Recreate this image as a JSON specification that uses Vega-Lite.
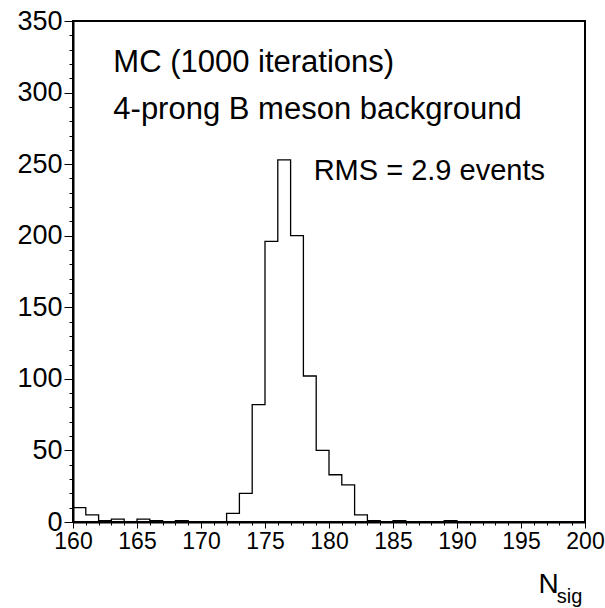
{
  "$schema": "https://vega.github.io/schema/vega-lite/v6.json",
  "width": 512,
  "height": 501,
  "autosize": {"type": "none"},
  "padding": {"left": 73, "top": 21, "right": 20, "bottom": 86},
  "background": "white",
  "config": {
    "view": {"stroke": "black", "strokeWidth": 2},
    "font": "Liberation Sans",
    "axis": {
      "domainColor": "black",
      "domainWidth": 2,
      "tickColor": "black",
      "tickWidth": 1,
      "grid": false,
      "labelColor": "black",
      "labelFont": "Liberation Sans",
      "labelOverlap": false,
      "labelFlush": false,
      "titleColor": "black",
      "titleFont": "Liberation Sans",
      "titleFontWeight": "normal"
    }
  },
  "data": {
    "values": [
      {"edge": 160, "count": 10}, {"edge": 161, "count": 5}, {"edge": 162, "count": 1},
      {"edge": 163, "count": 2}, {"edge": 164, "count": 0}, {"edge": 165, "count": 2},
      {"edge": 166, "count": 1}, {"edge": 167, "count": 0}, {"edge": 168, "count": 1},
      {"edge": 169, "count": 0}, {"edge": 170, "count": 0}, {"edge": 171, "count": 0},
      {"edge": 172, "count": 6}, {"edge": 173, "count": 20}, {"edge": 174, "count": 82},
      {"edge": 175, "count": 196}, {"edge": 176, "count": 253}, {"edge": 177, "count": 200},
      {"edge": 178, "count": 102}, {"edge": 179, "count": 50}, {"edge": 180, "count": 33},
      {"edge": 181, "count": 26}, {"edge": 182, "count": 5}, {"edge": 183, "count": 1},
      {"edge": 184, "count": 0}, {"edge": 185, "count": 1}, {"edge": 186, "count": 0},
      {"edge": 187, "count": 0}, {"edge": 188, "count": 0}, {"edge": 189, "count": 1},
      {"edge": 190, "count": 0}, {"edge": 191, "count": 0}, {"edge": 192, "count": 0},
      {"edge": 193, "count": 0}, {"edge": 194, "count": 0}, {"edge": 195, "count": 0},
      {"edge": 196, "count": 0}, {"edge": 197, "count": 0}, {"edge": 198, "count": 0},
      {"edge": 199, "count": 0}, {"edge": 200, "count": 0}
    ]
  },
  "layer": [
    {
      "mark": {"type": "line", "interpolate": "step-after", "color": "black", "strokeWidth": 1.3},
      "encoding": {
        "x": {
          "field": "edge",
          "type": "quantitative",
          "scale": {"domain": [160, 200], "nice": false, "zero": false},
          "axis": {
            "values": [160,161,162,163,164,165,166,167,168,169,170,171,172,173,174,175,176,177,178,179,180,181,182,183,184,185,186,187,188,189,190,191,192,193,194,195,196,197,198,199,200],
            "tickCount": 200,
            "format": "d",
            "labelExpr": "datum.value % 5 === 0 ? datum.label : ''",
            "tickSize": {"condition": {"test": "datum.value % 5 === 0", "value": 6}, "value": 3},
            "labelPadding": 2,
            "labelFontSize": 23,
            "title": "N",
            "titleFontSize": 28,
            "titleX": 465,
            "titleY": 70,
            "titleAlign": "left",
            "titleBaseline": "alphabetic"
          }
        },
        "y": {
          "field": "count",
          "type": "quantitative",
          "scale": {"domain": [0, 350], "nice": false},
          "axis": {
            "values": [0,10,20,30,40,50,60,70,80,90,100,110,120,130,140,150,160,170,180,190,200,210,220,230,240,250,260,270,280,290,300,310,320,330,340,350],
            "tickCount": 200,
            "format": "d",
            "labelExpr": "datum.value % 50 === 0 ? datum.label : ''",
            "tickSize": {"condition": {"test": "datum.value % 50 === 0", "value": 9}, "value": 4},
            "labelPadding": 2,
            "labelFontSize": 27,
            "title": null
          }
        }
      }
    },
    {
      "data": {"values": [{}]},
      "mark": {"type": "text", "align": "left", "baseline": "alphabetic", "fontSize": 31, "font": "Liberation Sans", "color": "black"},
      "encoding": {"x": {"datum": 163.15}, "y": {"datum": 314.2}, "text": {"value": "MC (1000 iterations)"}}
    },
    {
      "data": {"values": [{}]},
      "mark": {"type": "text", "align": "left", "baseline": "alphabetic", "fontSize": 31, "font": "Liberation Sans", "color": "black"},
      "encoding": {"x": {"datum": 163.15}, "y": {"datum": 281.4}, "text": {"value": "4-prong B meson background"}}
    },
    {
      "data": {"values": [{}]},
      "mark": {"type": "text", "align": "left", "baseline": "alphabetic", "fontSize": 29, "font": "Liberation Sans", "color": "black"},
      "encoding": {"x": {"datum": 178.8}, "y": {"datum": 239.2}, "text": {"value": "RMS = 2.9 events"}}
    },
    {
      "data": {"values": [{}]},
      "mark": {"type": "text", "align": "left", "baseline": "alphabetic", "fontSize": 20, "font": "Liberation Sans", "color": "black"},
      "encoding": {"x": {"datum": 197.8}, "y": {"datum": -56.8}, "text": {"value": "sig"}}
    }
  ]
}
